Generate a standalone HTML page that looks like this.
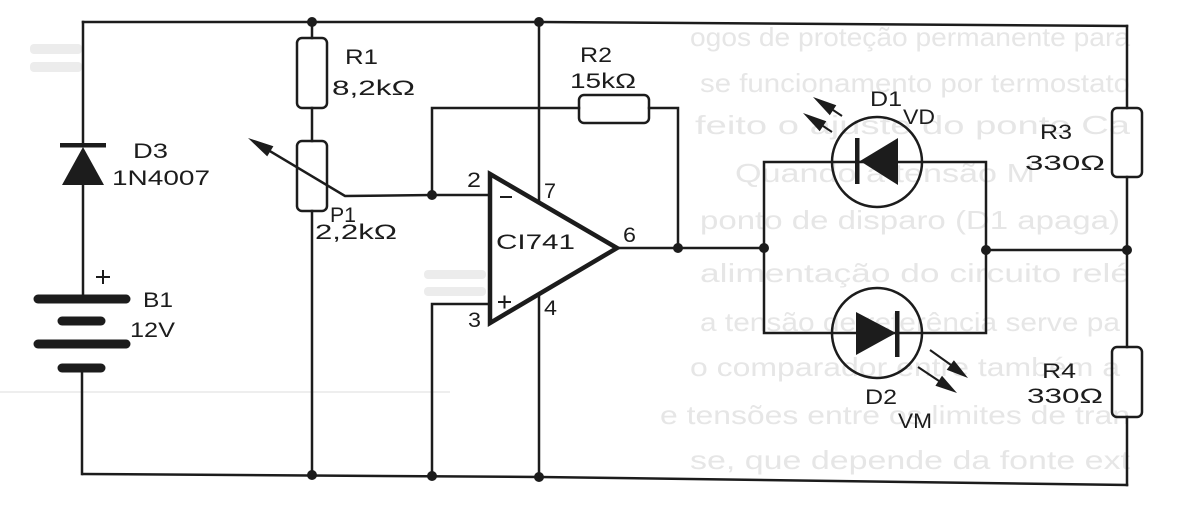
<!DOCTYPE html>
<html>
<head>
<meta charset="utf-8">
<style>
  html,body{margin:0;padding:0;background:#fff;}
  svg{display:block;}
  .w{stroke:#1c1c1c;stroke-width:2.5;fill:none;stroke-linecap:square;}
  .lbl{font-family:"Liberation Sans","DejaVu Sans",sans-serif;font-size:21px;fill:#1c1c1c;}
  .bleed{font-family:"Liberation Sans",sans-serif;font-size:26px;fill:#e6e6e6;}
</style>
</head>
<body>
<svg width="1197" height="507" viewBox="0 0 1197 507" xmlns="http://www.w3.org/2000/svg">
  <rect x="0" y="0" width="1197" height="507" fill="#ffffff"/>

  <!-- faint bleed-through text -->
  <g class="bleed">
    <text x="690" y="46" textLength="440" lengthAdjust="spacingAndGlyphs">ogos de proteção permanente para</text>
    <text x="700" y="92" textLength="430" lengthAdjust="spacingAndGlyphs">se funcionamento por termostato</text>
    <text x="695" y="134" textLength="435" lengthAdjust="spacingAndGlyphs">feito o ajuste do ponto Ca</text>
    <text x="735" y="182" textLength="300" lengthAdjust="spacingAndGlyphs">Quando a tensão M</text>
    <text x="700" y="229" textLength="420" lengthAdjust="spacingAndGlyphs">ponto de disparo (D1 apaga)</text>
    <text x="700" y="282" textLength="430" lengthAdjust="spacingAndGlyphs">alimentação do circuito relé</text>
    <text x="700" y="331" textLength="420" lengthAdjust="spacingAndGlyphs">a tensão de referência serve pa</text>
    <text x="690" y="376" textLength="430" lengthAdjust="spacingAndGlyphs">o comparador entre também a</text>
    <text x="660" y="424" textLength="470" lengthAdjust="spacingAndGlyphs">e tensões entre os limites de tran</text>
    <text x="690" y="469" textLength="440" lengthAdjust="spacingAndGlyphs">se, que depende da fonte ext</text>
  </g>
  <rect x="30" y="44" width="52" height="10" rx="4" fill="#ececec"/>
  <rect x="30" y="62" width="52" height="10" rx="4" fill="#ececec"/>
  <rect x="424" y="270" width="62" height="9" rx="4" fill="#ececec"/>
  <rect x="424" y="287" width="62" height="9" rx="4" fill="#ececec"/>
  <line x1="0" y1="392" x2="450" y2="392" stroke="#eeeeee" stroke-width="2"/>

  <!-- main wires -->
  <polyline class="w" points="83,22 540,22 1127,26"/>
  <polyline class="w" points="83,474 540,477 1127,485"/>
  <path class="w" d="M83,22 V145 M83,185 V299 M82,368 V474"/>
  <path class="w" d="M312,22 V38 M312,108 V141 M312,211 V475"/>

  <!-- R1 / P1 -->
  <rect class="w" x="297" y="38" width="30" height="70" rx="5"/>
  <rect class="w" x="297" y="141" width="30" height="70" rx="5"/>

  <!-- P1 wiper -->
  <path class="w" d="M432,195 L345,196 L268,150"/>
  <polygon points="248,138 273.4,146.2 267.2,156.4" fill="#1c1c1c"/>

  <!-- feedback & op-amp wiring -->
  <path class="w" d="M432,195 H490 M432,195 V108 H579 M649,108 H678 V248"/>
  <rect class="w" x="579" y="95" width="70" height="28" rx="5"/>
  <path class="w" d="M539,22 V201 M539,296 V477 M490,304 H432 V476"/>
  <polygon points="490,174 617,248 490,323" fill="none" stroke="#1c1c1c" stroke-width="4.5" stroke-linejoin="miter"/>
  <path d="M500,197 H512" stroke="#1c1c1c" stroke-width="2"/>
  <path d="M498,302 H511 M504.5,295.5 V308.5" stroke="#1c1c1c" stroke-width="2"/>

  <!-- output and LED bridge -->
  <path class="w" d="M617,248 H764 M764,248 V162 H986 V250 M764,248 V333 H986 V250 M986,250 H1127"/>

  <!-- right column R3 R4 -->
  <path class="w" d="M1127,26 V108 M1127,177 V347 M1127,417 V485"/>
  <rect class="w" x="1112" y="108" width="30" height="69" rx="5" fill="#fff"/>
  <rect class="w" x="1112" y="347" width="30" height="70" rx="5" fill="#fff"/>

  <!-- D1 LED -->
  <circle cx="877" cy="162" r="45" fill="none" stroke="#1c1c1c" stroke-width="2.5"/>
  <polygon points="860,161 898,138 898,185" fill="#1c1c1c"/>
  <rect x="855" y="138" width="4.5" height="46" fill="#1c1c1c"/>
  <polygon points="813,97 836.3,105.2 829.8,115.2" fill="#1c1c1c"/>
  <line x1="833" y1="110" x2="842" y2="116" stroke="#1c1c1c" stroke-width="2"/>
  <polygon points="803,113 826.3,121.2 819.7,131.2" fill="#1c1c1c"/>
  <line x1="823" y1="126" x2="832" y2="132" stroke="#1c1c1c" stroke-width="2"/>

  <!-- D2 LED -->
  <circle cx="877" cy="333" r="45" fill="none" stroke="#1c1c1c" stroke-width="2.5"/>
  <polygon points="856,312 856,355 896,333" fill="#1c1c1c"/>
  <rect x="895" y="311" width="4.5" height="46" fill="#1c1c1c"/>
  <line x1="930" y1="350" x2="951" y2="365" stroke="#1c1c1c" stroke-width="2"/>
  <polygon points="968,378 946.7,369.8 953.9,360.2" fill="#1c1c1c"/>
  <line x1="918" y1="367" x2="939" y2="381" stroke="#1c1c1c" stroke-width="2"/>
  <polygon points="957,393 935.4,385.8 942,375.8" fill="#1c1c1c"/>

  <!-- D3 -->
  <polygon points="83,147 62,185 104,185" fill="#1c1c1c"/>
  <rect x="60" y="143" width="46" height="4.5" fill="#1c1c1c"/>

  <!-- Battery -->
  <g stroke="#1c1c1c" stroke-width="9" stroke-linecap="round">
    <line x1="38" y1="299" x2="126" y2="299"/>
    <line x1="62" y1="321" x2="101" y2="321"/>
    <line x1="38" y1="344" x2="126" y2="344"/>
    <line x1="62" y1="368" x2="101" y2="368"/>
  </g>
  <path d="M96,277 H110 M103,270 V284" stroke="#1c1c1c" stroke-width="2"/>

  <!-- junctions -->
  <g fill="#1c1c1c">
    <circle cx="312" cy="22" r="5"/>
    <circle cx="539" cy="22" r="5"/>
    <circle cx="432" cy="195" r="5"/>
    <circle cx="678" cy="248" r="5"/>
    <circle cx="764" cy="248" r="5"/>
    <circle cx="986" cy="250" r="5"/>
    <circle cx="1127" cy="250" r="5"/>
    <circle cx="312" cy="475" r="5"/>
    <circle cx="432" cy="476" r="5"/>
    <circle cx="539" cy="477" r="5"/>
  </g>

  <!-- labels -->
  <g class="lbl">
    <text x="345" y="64" textLength="33" lengthAdjust="spacingAndGlyphs">R1</text>
    <text x="332" y="95" textLength="83" lengthAdjust="spacingAndGlyphs">8,2kΩ</text>
    <text x="133" y="158" textLength="35" lengthAdjust="spacingAndGlyphs">D3</text>
    <text x="112" y="185" textLength="98" lengthAdjust="spacingAndGlyphs">1N4007</text>
    <text x="330" y="222" textLength="26" lengthAdjust="spacingAndGlyphs">P1</text>
    <text x="315" y="239" textLength="82" lengthAdjust="spacingAndGlyphs">2,2kΩ</text>
    <text x="143" y="307" textLength="30" lengthAdjust="spacingAndGlyphs">B1</text>
    <text x="130" y="337" textLength="45" lengthAdjust="spacingAndGlyphs">12V</text>
    <text x="580" y="62" textLength="32" lengthAdjust="spacingAndGlyphs">R2</text>
    <text x="570" y="88" textLength="66" lengthAdjust="spacingAndGlyphs">15kΩ</text>
    <text x="467" y="187" textLength="14" lengthAdjust="spacingAndGlyphs">2</text>
    <text x="544" y="198" textLength="12" lengthAdjust="spacingAndGlyphs">7</text>
    <text x="496" y="249" textLength="79" lengthAdjust="spacingAndGlyphs">CI741</text>
    <text x="623" y="242" textLength="13" lengthAdjust="spacingAndGlyphs">6</text>
    <text x="468" y="327" textLength="13" lengthAdjust="spacingAndGlyphs">3</text>
    <text x="544" y="315" textLength="13" lengthAdjust="spacingAndGlyphs">4</text>
    <text x="870" y="106" textLength="32" lengthAdjust="spacingAndGlyphs">D1</text>
    <text x="903" y="124" textLength="32" lengthAdjust="spacingAndGlyphs">VD</text>
    <text x="1040" y="139" textLength="32" lengthAdjust="spacingAndGlyphs">R3</text>
    <text x="1025" y="170" textLength="80" lengthAdjust="spacingAndGlyphs">330Ω</text>
    <text x="865" y="404" textLength="32" lengthAdjust="spacingAndGlyphs">D2</text>
    <text x="898" y="428" textLength="34" lengthAdjust="spacingAndGlyphs">VM</text>
    <text x="1042" y="378" textLength="34" lengthAdjust="spacingAndGlyphs">R4</text>
    <text x="1027" y="403" textLength="76" lengthAdjust="spacingAndGlyphs">330Ω</text>
  </g>
</svg>
</body>
</html>
